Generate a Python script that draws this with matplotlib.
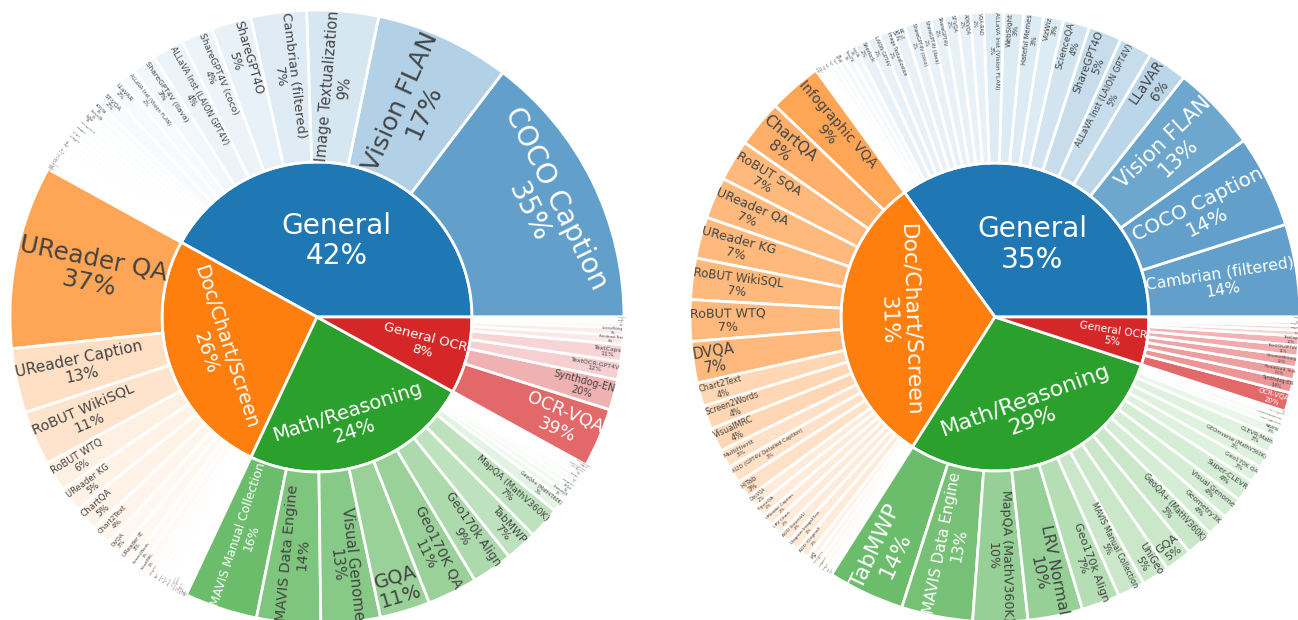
import numpy as np
import matplotlib.pyplot as plt
from matplotlib.textpath import TextPath
from matplotlib.font_manager import FontProperties
from matplotlib.colors import to_rgb

plt.rcParams['font.family'] = ['DejaVu Sans']

groups = ["General", "Doc/Chart/Screen", "Math/Reasoning", "General OCR"]
group_colors = ["#1f77b4", "#ff7f0e", "#2ca02c", "#d62728"]

# ---------------- left mix ----------------
left_group_pct = [42, 26, 24, 8]

left_general = ["COCO Caption", "Vision FLAN", "Image Textualization", "Cambrian (filtered)",
                "ShareGPT4O", "ShareGPT4V (coco)", "ALLaVA Inst (LAION GPT4V)", "ShareGPT4V (llava)",
                "ALLaVA Inst (Vision FLAN)", "LLaVAR", "ST-VQA", "AOKVQA", "ScienceQA", "VizWiz",
                "Hateful Memes", "WebSight", "VQA-RAD", "ShareGPT4V", "VSR", "IconQA", "TQA",
                "Visual7W", "VQAv2", "SLAKE", "PathVQA", "CLEVR", "LAION GPT4V", "VisText",
                "Sherlock", "LLaVA-Wild"]
left_general_pct = [35, 17, 9, 7, 5, 4, 4, 3, 2, 2, 2, 1, 0.9, 0.9, 0.8, 0.8, 0.7, 0.7,
                    0.6, 0.6, 0.5, 0.5, 0.4, 0.4, 0.3, 0.3, 0.3, 0.2, 0.2, 0.2]

left_doc = ["UReader QA", "UReader Caption", "RoBUT WikiSQL", "RoBUT WTQ", "UReader KG",
            "ChartQA", "Chart2Text", "DVQA", "UReader IE", "Screen2Words", "VisualMRC",
            "MultiHiertt", "HiTab", "DocVQA", "FigureQA", "LRV Chart", "AI2D (InternVL)",
            "Diagram Image2Text", "InfoVQA", "Infographic VQA", "RoBUT SQA", "ArXiv QA",
            "PlotQA", "ScreenQA"]
left_doc_pct = [37, 13, 11, 6, 5, 5, 4, 3, 3, 2, 2, 1.2, 1.1, 1.0, 0.9, 0.8, 0.7, 0.6,
                0.5, 0.5, 0.4, 0.4, 0.3, 0.3]

left_math = ["MAVIS Manual Collection", "MAVIS Data Engine", "Visual Genome", "GQA",
             "Geo170K QA", "Geo170k Align", "TabMWP", "MapQA (MathV360K)", "GeoQA+ (MathV360K)",
             "Geometry3K", "UniGeo", "Super-CLEVR", "GEOS", "CLEVR-Math", "RAVEN",
             "IconQA (MathV360K)", "Geometry3K (MathV360K)", "LRV Normal", "PMC-VQA (MathV360K)"]
left_math_pct = [16, 14, 13, 11, 11, 9, 7, 7, 3, 1.6, 1.4, 1.2, 1.0, 0.9, 0.8, 0.7, 0.6, 0.5, 0.3]

left_ocr = ["OCR-VQA", "Synthdog-EN", "TextOCR-GPT4V", "TextCaps", "Rendered Text",
            "ChromeWriting", "IIIT5K", "HME100K", "IAM", "K12 Printing"]
left_ocr_pct = [39, 20, 12, 11, 6, 5, 3, 2, 1, 1]

# ---------------- right mix ----------------
right_group_pct = [35, 31, 29, 5]

right_general = ["Cambrian (filtered)", "COCO Caption", "Vision FLAN", "LLaVAR",
                 "ALLaVA Inst (LAION GPT4V)", "ShareGPT4O", "ScienceQA", "VizWiz", "Hateful Memes",
                 "WebSight", "ALLaVA Inst (Vision FLAN)", "VQA-RAD", "AOKVQA", "ST-VQA", "ShareGPT4V",
                 "ShareGPT4V (llava)", "ShareGPT4V (coco)", "VSR", "Image Textualization",
                 "LAION GPT4V", "Sherlock", "IconQA", "Visual7W", "TQA", "VQAv2", "CLEVR", "SLAKE",
                 "PathVQA", "VisText", "LLaVA-Wild", "PMC-VQA"]
right_general_pct = [14, 14, 13, 6, 5, 5, 4, 3, 3, 3, 3, 2, 2, 2, 2, 2, 2, 2, 2, 2, 2,
                     1.2, 1.1, 1.0, 0.8, 0.7, 0.6, 0.5, 0.4, 0.3, 0.2]

right_doc = ["Infographic VQA", "ChartQA", "RoBUT SQA", "UReader QA", "UReader KG", "RoBUT WikiSQL",
             "RoBUT WTQ", "DVQA", "Chart2Text", "Screen2Words", "VisualMRC", "MultiHiertt",
             "AI2D (GPT4V Detailed Caption)", "HiTab", "DocVQA", "FigureQA", "UReader Caption",
             "LRV Chart", "AI2D (InternVL)", "Diagram Image2Text", "AI2D (Original)", "TQA",
             "ChartGemma", "UReader IE", "ScreenQA", "PlotQA", "ArXiv QA"]
right_doc_pct = [9, 8, 7, 7, 7, 7, 7, 7, 4, 4, 4, 3, 3, 3, 2, 2, 2, 2, 2, 2, 2,
                 1.2, 1.0, 0.9, 0.8, 0.6, 0.5]

right_math = ["TabMWP", "MAVIS Data Engine", "MapQA (MathV360K)", "LRV Normal", "Geo170k Align",
              "MAVIS Manual Collection", "UniGeo", "GQA", "GeoQA+ (MathV360K)", "Geometry3K",
              "Visual Genome", "Super-CLEVR", "Geo170K QA", "GEOmverse (MathV360K)", "CLEVR-Math",
              "RAVEN", "IconQA (MathV360K)", "Geometry3K (MathV360K)", "PMC-VQA (MathV360K)", "GEOS"]
right_math_pct = [14, 13, 10, 10, 7, 5, 5, 5, 5, 4, 4, 4, 3, 3, 3, 2, 1, 1, 0.6, 0.4]

right_ocr = ["OCR-VQA", "Synthdog-EN", "Rendered Text", "ChromeWriting", "TextOCR-GPT4V",
             "TextCaps", "IIIT5K", "HME100K", "K12 Printing", "IAM", "Handwriting"]
right_ocr_pct = [20, 14, 13, 12, 11, 10, 6, 5, 4, 3, 2]

FONT_PX = 28
TEXTPAD = 3
prop = FontProperties(family='DejaVu Sans')


def text_size(lines):
    w = max(TextPath((0, 0), s, size=100, prop=prop).get_extents().width for s in lines) / 100
    h = 1.3 * (len(lines) - 1) + 1.15
    return w, h


def max_half(a, half, r, ring):
    q = a + 1 / (2 * np.tan(half))
    return r * min(1 / (np.sqrt(q * q + 0.5) + q), ring / (np.sqrt(a * a + ring / 2) + a))


def text_color(face):
    r, g, b = [c * 255 for c in to_rgb(face)]
    return 'white' if (r * 299 + g * 587 + b * 114) / 1000 < 165 else '#444444'


def put_label(ax, w, r0, r1, label, face):
    lines = label.split("\n")
    w1, h1 = text_size(lines)
    tw, th = w1 * FONT_PX, h1 * FONT_PX
    span = np.radians(w.theta2 - w.theta1)
    half = 0.5 * min(span, np.pi)
    if half <= 0:
        return
    mid = np.radians((w.theta1 + w.theta2) / 2)
    ring = 1 - r0 / r1
    rins = max(0, min(1 / (1 + 1 / np.sin(half)), ring / 2))
    # horizontal first, then radial / tangential if it does not fit at full size
    best = (rins * r1 * 2 / np.hypot(tw, th), 1 - rins, 0.0)
    if best[0] < 1:
        rr = max(1e-6, r1 - 2 * TEXTPAD)
        a = tw / th
        s = max_half(a, half, rr, ring)
        rad = (s * 2 / th, np.cos(s / rr) - a * s / rr, np.degrees(mid))
        a = th / tw
        s = max_half(a, half, rr, ring)
        tan = (s * 2 / tw, np.cos(s / rr) - a * s / rr, np.degrees(mid) + 90)
        for cand in (rad, tan):
            if cand[0] > best[0]:
                best = cand
    scale, rc, rot = best
    rot = (rot + 90) % 180 - 90
    fs = max(FONT_PX * min(1, scale), 1.0)
    x, y = r1 * rc * np.cos(mid), r1 * rc * np.sin(mid)
    ax.text(x, y, label, ha='center', va='center', rotation=rot, rotation_mode='anchor',
            multialignment='center', linespacing=1.1, fontsize=fs * 0.72,
            color=text_color(face))


def draw_sunburst(ax, group_pct, children, r_in, r_out, half_box):
    inner, _ = ax.pie(group_pct, radius=r_in, startangle=0, counterclock=True,
                      colors=group_colors,
                      wedgeprops=dict(edgecolor='white', linewidth=2))
    sizes, cols, labels = [], [], []
    for gp, col, (names, vals) in zip(group_pct, group_colors, children):
        tot = sum(vals)
        vmax = max(vals)
        base = np.array(to_rgb(col))
        for n, v in zip(names, vals):
            sizes.append(gp * v / tot)
            a = 0.7 * v / vmax
            cols.append(tuple(1 - a * (1 - base)))
            labels.append(f"{n}\n{100 * v / tot:.0f}%")
    outer, _ = ax.pie(sizes, radius=r_out, startangle=0, counterclock=True, colors=cols,
                      wedgeprops=dict(width=r_out - r_in, edgecolor='white', linewidth=2))
    for w, g, gp, col in zip(inner, groups, group_pct, group_colors):
        put_label(ax, w, 0, r_in, f"{g}\n{gp}%", col)
    for w, lab, col in zip(outer, labels, cols):
        put_label(ax, w, r_in, r_out, lab, col)
    ax.set_xlim(-half_box, half_box)
    ax.set_ylim(-half_box, half_box)
    ax.set_aspect('equal')
    ax.axis('off')


fig = plt.figure(figsize=(12.98, 6.2), dpi=100)

ax1 = fig.add_axes([0 / 1298, (303 - 317) / 620, 634 / 1298, 634 / 620])
draw_sunburst(ax1, left_group_pct,
              [(left_general, left_general_pct), (left_doc, left_doc_pct),
               (left_math, left_math_pct), (left_ocr, left_ocr_pct)],
              155, 307, 317)

ax2 = fig.add_axes([(995 - 310) / 1298, (303 - 310) / 620, 620 / 1298, 620 / 620])
draw_sunburst(ax2, right_group_pct,
              [(right_general, right_general_pct), (right_doc, right_doc_pct),
               (right_math, right_math_pct), (right_ocr, right_ocr_pct)],
              154, 305, 310)

fig.savefig("out.png", dpi=100)
